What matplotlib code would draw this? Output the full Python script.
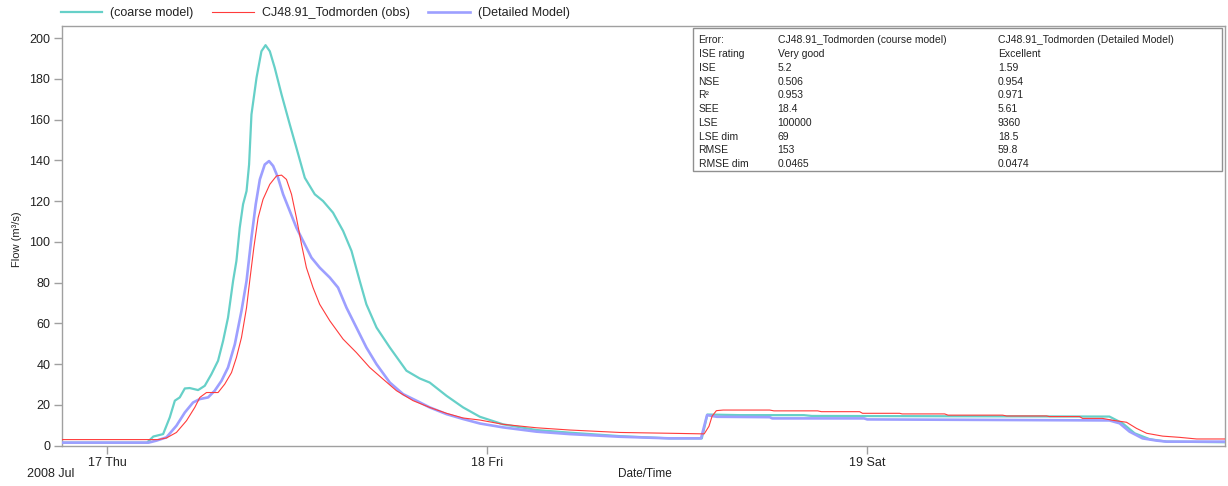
"""
Recreates the Todmorden flow chart: observed flow vs. coarse and detailed
model runs, July 2008, with the error statistics box in the top right.
"""
import matplotlib
matplotlib.use("Agg")
import matplotlib.dates as mdates
import pandas as pd
from matplotlib import pyplot as plt
from matplotlib.patches import Rectangle

# ---- data (hours after 2008-07-17 00:00, flow in m3/s) ----
coarse_hours = [-2.9, 2.5, 2.9, 3.52, 3.94, 4.26, 4.57, 4.89, 5.2, 5.73, 6.15,
                6.57, 6.99, 7.31, 7.62, 7.94, 8.15, 8.36, 8.57, 8.79, 8.95,
                9.1, 9.42, 9.73, 9.99, 10.26, 10.57, 11.0, 11.52, 11.94,
                12.47, 13.1, 13.62, 14.25, 14.89, 15.42, 15.94, 16.36, 17.0,
                17.84, 18.89, 19.73, 20.36, 21.42, 22.47, 23.53, 24.99, 27.1,
                29.2, 32.36, 35.52, 37.55, 37.9, 39.94, 44.0, 44.5, 63.3,
                64.13, 64.89, 65.84, 66.91, 70.6]
coarse_flow = [1.5, 1.5, 4.5, 5.7, 13.9, 22.1, 23.7, 28.1, 28.3, 27.3, 29.4,
               35.1, 41.7, 51.5, 62.9, 80.9, 90.7, 107.0, 118.5, 125.0, 138.0,
               162.6, 180.6, 193.6, 196.6, 193.6, 185.5, 172.4, 157.7, 146.2,
               131.5, 123.4, 120.1, 114.4, 105.4, 95.6, 80.9, 69.4, 58.0,
               48.2, 36.8, 33.0, 31.0, 24.5, 18.8, 14.2, 10.5, 7.7,
               6.4, 4.7, 3.6, 3.6, 15.3, 15.0, 15.0, 14.6, 14.3,
               11.0, 6.1, 3.2, 2.0, 1.7]

obs_hours = [-2.9, 3.2, 3.73, 4.36, 5.0, 5.52, 5.84, 6.26, 6.99, 7.41, 7.84,
             8.15, 8.47, 8.79, 8.99, 9.25, 9.52, 9.83, 10.26, 10.68, 11.0,
             11.31, 11.63, 11.94, 12.26, 12.57, 12.99, 13.41, 14.05, 14.89,
             15.73, 16.57, 17.41, 18.26, 19.31, 20.36, 21.42, 22.47, 23.53,
             24.99, 27.1, 29.2, 32.36, 35.52, 37.7, 38.0, 38.2, 38.47, 38.9,
             41.84, 42.1, 44.87, 45.1, 47.52, 47.7, 50.05, 50.2, 52.89, 53.1,
             56.55, 56.8, 59.33, 59.5, 61.41, 61.6, 62.86, 63.49, 64.38,
             65.01, 65.65, 66.66, 67.73, 68.81, 70.6]
obs_flow = [3.0, 3.0, 3.8, 6.5, 12.3, 18.8, 23.7, 26.1, 26.1, 30.2, 35.9,
            43.3, 53.1, 67.8, 80.9, 97.2, 111.9, 120.9, 128.3, 132.4, 132.8,
            130.7, 123.4, 111.9, 98.9, 87.4, 77.6, 69.4, 61.3, 52.3,
            45.7, 38.4, 32.7, 27.0, 22.1, 18.8, 15.9, 13.6, 12.6,
            10.5, 8.8, 7.7, 6.5, 6.1, 5.8, 9.5, 14.5, 17.2, 17.5,
            17.5, 17.1, 17.1, 16.7, 16.7, 15.9, 15.9, 15.6, 15.6, 15.0,
            15.0, 14.6, 14.6, 14.3, 14.3, 13.4, 13.4, 12.5, 11.5,
            8.5, 6.1, 4.7, 4.1, 3.3, 3.3]

detailed_hours = [-2.9, 2.6, 3.1, 3.73, 4.36, 4.89, 5.41, 5.84, 6.36, 6.78,
                  7.21, 7.62, 8.05, 8.47, 8.79, 9.1, 9.37, 9.63, 9.94, 10.21,
                  10.47, 10.78, 11.1, 11.52, 11.94, 12.36, 12.89, 13.41,
                  14.05, 14.57, 15.1, 15.73, 16.36, 17.0, 17.84, 18.68, 19.52,
                  20.36, 21.42, 22.47, 23.53, 24.99, 27.1, 29.2, 32.36, 35.52,
                  37.5, 37.88, 38.5, 41.84, 42.0, 47.8, 48.0, 63.3, 63.94,
                  64.57, 65.39, 66.28, 66.91, 70.6]
detailed_flow = [1.5, 1.5, 2.5, 4.1, 9.8, 16.3, 21.2, 22.9, 23.7, 27.0,
                 31.9, 38.4, 49.8, 66.2, 80.9, 102.1, 118.5, 130.7, 138.0, 139.7,
                 137.3, 131.5, 123.4, 115.2, 107.0, 100.5, 92.3, 87.4,
                 82.5, 77.6, 67.8, 58.0, 48.2, 40.0, 31.0, 25.3, 22.1,
                 18.8, 15.5, 13.1, 10.9, 9.0, 6.9, 5.7, 4.4, 3.6,
                 3.6, 15.0, 14.2, 14.0, 13.4, 13.4, 12.9, 12.4, 11.0,
                 6.9, 3.6, 2.5, 2.0, 2.0]

series_names = ["(coarse model)", "CJ48.91_Todmorden (obs)", "(Detailed Model)"]

# error statistics box
stat_header = ["Error:", "CJ48.91_Todmorden (course model)",
               "CJ48.91_Todmorden (Detailed Model)"]
stat_names = ["ISE rating", "ISE", "NSE", "R\u00b2", "SEE", "LSE", "LSE dim",
              "RMSE", "RMSE dim"]
stat_coarse = ["Very good", "5.2", "0.506", "0.953", "18.4", "100000", "69",
               "153", "0.0465"]
stat_detailed = ["Excellent", "1.59", "0.954", "0.971", "5.61", "9360", "18.5",
                 "59.8", "0.0474"]

START = pd.Timestamp("2008-07-17")
W, H = 1228, 486
GRID_GREY = "#a0a0a0"
TEXT = "#222222"


def to_time(hours):
    """Hour offsets -> timestamps."""
    return START + pd.to_timedelta(hours, unit="h")


def fx(px):
    return px / W


def fy(py):
    return 1 - py / H


plt.rcParams["font.family"] = ["Liberation Sans", "DejaVu Sans"]

fig = plt.figure(figsize=(W / 100, H / 100), dpi=100)
ax = fig.add_axes([fx(61.5), fy(445.7), fx(1225) - fx(61.5), fy(26) - fy(445.7)])

l_coarse, = ax.plot(to_time(coarse_hours), coarse_flow, color="#66d0c8",
                    lw=1.6, zorder=2)
l_obs, = ax.plot(to_time(obs_hours), obs_flow, color="#ff3b3b", lw=0.8,
                 zorder=4)
l_det, = ax.plot(to_time(detailed_hours), detailed_flow, color="#9d9fff",
                 lw=1.9, zorder=3)

ax.set_xlim(to_time(-2.9), to_time(70.6))
ax.set_ylim(0, 206)
ax.set_yticks(range(0, 201, 20))
ax.xaxis.set_major_locator(mdates.DayLocator())
ax.xaxis.set_major_formatter(mdates.DateFormatter("%d %a"))

for sp in ax.spines.values():
    sp.set_color(GRID_GREY)
    sp.set_linewidth(1)
ax.tick_params(axis="both", colors=GRID_GREY, labelcolor=TEXT, labelsize=9,
               length=6, width=1, pad=2)

# labels
fig.text(fx(17.3), fy(239), "Flow (m\u00b3/s)", rotation=90, ha="center",
         va="center", fontsize=8, color=TEXT)
fig.text(fx(645), fy(474), "Date/Time", ha="center", va="center",
         fontsize=8.5, color=TEXT)
fig.text(fx(27), fy(474), "2008 Jul", ha="left", va="center",
         fontsize=9, color=TEXT)

# legend along the top
fig.legend([l_coarse, l_obs, l_det], series_names, loc="center left",
           bbox_to_anchor=(fx(61), fy(13)), ncol=3, frameon=False,
           fontsize=9, handlelength=3.3, handletextpad=0.65,
           columnspacing=1.5, borderpad=0, borderaxespad=0,
           labelcolor=TEXT)

# statistics box
fig.patches.append(Rectangle((fx(692.7), fy(170.8)), fx(1222) - fx(692.7),
                             fy(28.4) - fy(170.8), transform=fig.transFigure,
                             facecolor="white", edgecolor="#909090", lw=1,
                             zorder=5))
col_x = [698.6, 777.5, 997.8]
rows = [stat_header] + [list(r) for r in zip(stat_names, stat_coarse,
                                            stat_detailed)]
for i, row in enumerate(rows):
    y = 40.4 + i * 13.73
    for x, txt in zip(col_x, row):
        fig.text(fx(x), fy(y), txt, ha="left", va="center", fontsize=7.5,
                 color=TEXT, zorder=6)

fig.savefig("out.png", dpi=100)
